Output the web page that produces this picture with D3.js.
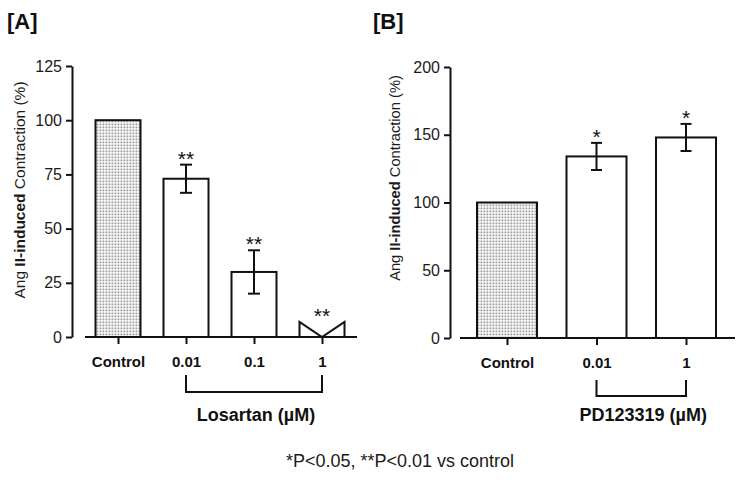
<!DOCTYPE html>
<html>
<head>
<meta charset="utf-8">
<script src="https://cdn.jsdelivr.net/npm/d3@7"></script>
<style>
  html, body { margin: 0; padding: 0; background: #fff; }
  svg text { font-family: Arial, "Liberation Sans", sans-serif; }
</style>
</head>
<body>
<svg id="chart" width="750" height="480"></svg>
<script>
// ---- Data ----
const categoriesA = ["Control", "0.01", "0.1", "1"];
const valuesA = [100, 73, 30, 7];
const errorsA = [0, 6.5, 10, 0];
const sigA = ["", "**", "**", "**"];
const ticksA = [0, 25, 50, 75, 100, 125];

const categoriesB = ["Control", "0.01", "1"];
const valuesB = [100, 134, 148];
const errorsB = [0, 10, 10];
const sigB = ["", "*", "*"];
const ticksB = [0, 50, 100, 150, 200];

const groupLabelA = "Losartan (\u00b5M)";
const groupLabelB = "PD123319 (\u00b5M)";
const footnote = "*P<0.05, **P<0.01 vs control";

const svg = d3.select("#chart");

// dotted pattern for control bars
const defs = svg.append("defs");
const pat = defs.append("pattern")
  .attr("id", "dots").attr("patternUnits", "userSpaceOnUse")
  .attr("width", 3).attr("height", 3);
pat.append("rect").attr("width", 3).attr("height", 3).attr("fill", "#ffffff");
pat.append("rect").attr("x", 0.5).attr("y", 0.5).attr("width", 1.8).attr("height", 1.8).attr("fill", "#9a9a9a");

function panel(cfg) {
  const g = svg.append("g");
  const y = d3.scaleLinear().domain(cfg.yDomain).range([cfg.y0, cfg.y1]);
  const x = d3.scalePoint().domain(cfg.cats).range([cfg.xFirst, cfg.xLast]);

  // panel label
  g.append("text").attr("x", cfg.labelX).attr("y", 29)
    .attr("font-size", 22).attr("font-weight", "bold").attr("fill", "#111")
    .text(cfg.label);

  // y axis
  const yAxis = d3.axisLeft(y).tickValues(cfg.ticks).tickSize(6).tickPadding(4).tickSizeOuter(0);
  const ya = g.append("g").attr("transform", `translate(${cfg.yAxisX},0)`).call(yAxis);
  ya.select(".domain").attr("stroke", "#111").attr("stroke-width", 2);
  ya.selectAll(".tick line").attr("stroke", "#111").attr("stroke-width", 2);
  ya.selectAll(".tick text").attr("font-size", cfg.tickFont).attr("fill", "#1a1a1a")
    .attr("font-family", "Arial, 'Liberation Sans', sans-serif");

  // y title
  const t = g.append("text")
    .attr("transform", `translate(${cfg.titleX},${cfg.titleY}) rotate(-90)`)
    .attr("text-anchor", "middle").attr("font-size", cfg.titleFont).attr("fill", "#1a1a1a");
  t.append("tspan").text("Ang ");
  t.append("tspan").attr("font-weight", "bold").text("II-induced");
  t.append("tspan").text(" Contraction (%)");

  // x axis line
  g.append("line")
    .attr("x1", cfg.xAxisStart).attr("x2", cfg.xAxisEnd)
    .attr("y1", y(0)).attr("y2", y(0))
    .attr("stroke", "#111").attr("stroke-width", 2);

  // x ticks + labels
  const xa = d3.axisBottom(x).tickSize(7).tickPadding(12);
  const xg = g.append("g").attr("transform", `translate(0,${y(0)})`).call(xa);
  xg.select(".domain").remove();
  xg.selectAll(".tick line").attr("stroke", "#111").attr("stroke-width", 2);
  xg.selectAll(".tick text").attr("font-size", cfg.xFont).attr("font-weight", "bold")
    .attr("fill", "#111").attr("font-family", "Arial, 'Liberation Sans', sans-serif")
    .attr("dy", "0.71em");

  const bw = cfg.barWidth;
  cfg.vals.forEach((v, i) => {
    const cx = x(cfg.cats[i]);
    if (cfg.vShape && cfg.vShape[i]) {
      const p = d3.path();
      p.moveTo(cx - bw / 2, y(0));
      p.lineTo(cx - bw / 2, y(v));
      p.lineTo(cx, y(0));
      p.lineTo(cx + bw / 2, y(v));
      p.lineTo(cx + bw / 2, y(0));
      g.append("path").attr("d", p.toString()).attr("fill", "none")
        .attr("stroke", "#111").attr("stroke-width", 2);
    } else {
      g.append("rect")
        .attr("x", cx - bw / 2).attr("y", y(v))
        .attr("width", bw).attr("height", y(0) - y(v))
        .attr("fill", i === 0 ? "url(#dots)" : "#fff")
        .attr("stroke", "#111").attr("stroke-width", 2);
    }
    const e = cfg.errs[i];
    if (e > 0) {
      const cap = cfg.capWidth / 2;
      g.append("line").attr("x1", cx).attr("x2", cx).attr("y1", y(v + e)).attr("y2", y(v - e))
        .attr("stroke", "#111").attr("stroke-width", 2);
      [v + e, v - e].forEach(yy => {
        g.append("line").attr("x1", cx - cap).attr("x2", cx + cap)
          .attr("y1", y(yy)).attr("y2", y(yy))
          .attr("stroke", "#111").attr("stroke-width", 2);
      });
    }
    if (cfg.sig[i]) {
      g.append("text").attr("x", cx).attr("y", y(v + e) + cfg.sigOffset)
        .attr("text-anchor", "middle").attr("font-size", 21).attr("fill", "#111")
        .text(cfg.sig[i]);
    }
  });

  // bracket
  const bx1 = x(cfg.cats[1]), bx2 = x(cfg.cats[cfg.cats.length - 1]);
  const bp = d3.path();
  bp.moveTo(bx1, cfg.bracketTop);
  bp.lineTo(bx1, cfg.bracketBottom);
  bp.lineTo(bx2, cfg.bracketBottom);
  bp.lineTo(bx2, cfg.bracketTop);
  g.append("path").attr("d", bp.toString()).attr("fill", "none")
    .attr("stroke", "#111").attr("stroke-width", 2);
  g.append("text").attr("x", (bx1 + bx2) / 2 + 2).attr("y", 421)
    .attr("text-anchor", "middle").attr("font-size", 18).attr("font-weight", "bold")
    .attr("fill", "#111").text(cfg.groupLabel);
}

panel({
  label: "[A]", labelX: 7,
  cats: categoriesA, vals: valuesA, errs: errorsA, sig: sigA, ticks: ticksA,
  yDomain: [0, 125], y0: 337, y1: 66,
  xFirst: 118, xLast: 322, barWidth: 45, capWidth: 12,
  yAxisX: 72, xAxisStart: 85, xAxisEnd: 357,
  titleX: 25, titleY: 190, titleFont: 15.5, tickFont: 16, xFont: 15,
  sigOffset: 1, vShape: [false, false, false, true],
  bracketTop: 375, bracketBottom: 392, groupLabel: groupLabelA
});

panel({
  label: "[B]", labelX: 373,
  cats: categoriesB, vals: valuesB, errs: errorsB, sig: sigB, ticks: ticksB,
  yDomain: [0, 200], y0: 338, y1: 67,
  xFirst: 507, xLast: 686, barWidth: 60, capWidth: 11,
  yAxisX: 450, xAxisStart: 460, xAxisEnd: 735,
  titleX: 400, titleY: 178, titleFont: 14.7, tickFont: 16, xFont: 15,
  sigOffset: 1, vShape: null,
  bracketTop: 380, bracketBottom: 396, groupLabel: groupLabelB
});

svg.append("text").attr("x", 400).attr("y", 467)
  .attr("text-anchor", "middle").attr("font-size", 18).attr("fill", "#1a1a1a")
  .text(footnote);
</script>
</body>
</html>
